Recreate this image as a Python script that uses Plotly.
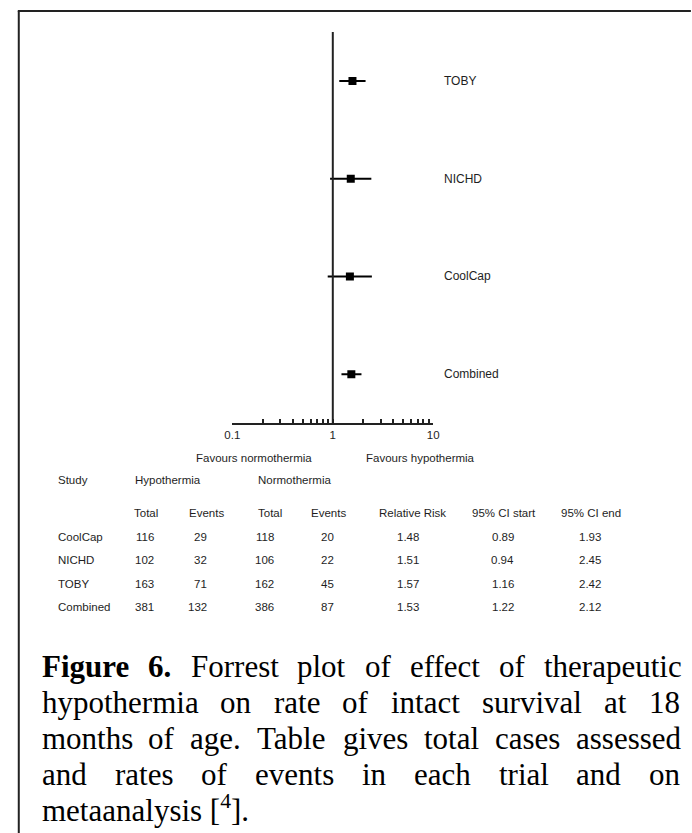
import plotly.graph_objects as go

W, H = 692, 833

# ---------------- data (plot, as drawn) ----------------
plot_studies = ["TOBY", "NICHD", "CoolCap", "Combined"]
plot_rr = [1.57, 1.51, 1.48, 1.53]
plot_ci_lo = [1.16, 0.94, 0.89, 1.22]
plot_ci_hi = [2.12, 2.42, 2.45, 1.93]

# ---------------- data (table) ----------------
table_study = ["CoolCap", "NICHD", "TOBY", "Combined"]
hyp_total = [116, 102, 163, 381]
hyp_events = [29, 32, 71, 132]
norm_total = [118, 106, 162, 386]
norm_events = [20, 22, 45, 87]
rel_risk = ["1.48", "1.51", "1.57", "1.53"]
ci_start = ["0.89", "0.94", "1.16", "1.22"]
ci_end = ["1.93", "2.45", "2.42", "2.12"]

x_major_ticks = [0.1, 1, 10]
x_major_text = ["0.1", "1", "10"]
x_minor_ticks = [0.2, 0.3, 0.4, 0.5, 0.6, 0.7, 0.8, 0.9,
                 2, 3, 4, 5, 6, 7, 8, 9]


def px(x):
    return x / W


def py(y):
    return 1 - y / H


SANS = "Liberation Sans, Arial, Helvetica, sans-serif"
SERIF = "Liberation Serif, Times New Roman, serif"
TXT = "#1e1e1e"

fig = go.Figure()

err_plus = [h - r for h, r in zip(plot_ci_hi, plot_rr)]
err_minus = [r - l for r, l in zip(plot_rr, plot_ci_lo)]

fig.add_trace(go.Scatter(
    x=plot_rr, y=plot_studies, mode="markers",
    marker=dict(symbol="square", size=8, color="black"),
    error_x=dict(type="data", symmetric=False, array=err_plus,
                 arrayminus=err_minus, width=0, thickness=2, color="black"),
    showlegend=False, hoverinfo="skip",
))

# reference line at RR = 1
fig.add_shape(type="line", xref="x", yref="y", x0=1, x1=1, y0=-0.5, y1=3.5,
              line=dict(color="#222", width=2))

annotations = []
# study labels on plot
for s in plot_studies:
    annotations.append(dict(x=px(443), y=s, xref="paper", yref="y", text=s,
                            showarrow=False, xanchor="left", yanchor="middle",
                            font=dict(family=SANS, size=12, color=TXT)))

# favours labels
annotations.append(dict(x=px(251), y=py(458), xref="paper", yref="paper",
                        text="Favours normothermia", showarrow=False,
                        xanchor="center", yanchor="middle",
                        font=dict(family=SANS, size=11.5, color=TXT)))
annotations.append(dict(x=px(421), y=py(458), xref="paper", yref="paper",
                        text="Favours hypothermia", showarrow=False,
                        xanchor="center", yanchor="middle",
                        font=dict(family=SANS, size=11.5, color=TXT)))


def tann(text, x, y, anchor):
    annotations.append(dict(x=px(x), y=py(y), xref="paper", yref="paper",
                            text=str(text), showarrow=False, xanchor=anchor,
                            yanchor="middle",
                            font=dict(family=SANS, size=11.5, color=TXT)))


# table headers
tann("Study", 49, 480, "left")
tann("Hypothermia", 128, 480, "left")
tann("Normothermia", 253, 480, "left")
tann("Total", 141, 513, "center")
tann("Events", 203, 513, "center")
tann("Total", 267, 513, "center")
tann("Events", 327, 513, "center")
tann("Relative Risk", 413, 513, "center")
tann("95% CI start", 506, 513, "center")
tann("95% CI end", 595, 513, "center")

row_y = [537, 560, 584, 607]
for i, yy in enumerate(row_y):
    tann(table_study[i], 49, yy, "left")
    tann(hyp_total[i], 151, yy, "right")
    tann(hyp_events[i], 205, yy, "right")
    tann(norm_total[i], 274, yy, "right")
    tann(norm_events[i], 335, yy, "right")
    tann(rel_risk[i], 422, yy, "right")
    tann(ci_start[i], 518, yy, "right")
    tann(ci_end[i], 607, yy, "right")

# caption, justified by word placement
caption_lines = [
    [("<b>Figure</b>", 33), ("<b>6.</b>", 141), ("Forrest", 185), ("plot", 293),
     ("of", 362), ("effect", 408), ("of", 499), ("therapeutic", 545)],
    [("hypothermia", 33), ("on", 214), ("rate", 269), ("of", 339),
     ("intact", 389), ("survival", 482), ("at", 606), ("18", 652)],
    [("months", 33), ("of", 141), ("age.", 184), ("Table", 252),
     ("gives", 340), ("total", 423), ("cases", 495), ("assessed", 578)],
    [("and", 33), ("rates", 107), ("of", 195), ("events", 250), ("in", 359),
     ("each", 412), ("trial", 499), ("and", 578), ("on", 652)],
    [("metaanalysis [<sup>4</sup>].", 33)],
]
baselines = [678, 714, 750, 786, 822]
for line, base in zip(caption_lines, baselines):
    for word, xw in line:
        annotations.append(dict(x=px(xw), y=py(base + 8), xref="paper",
                                yref="paper", text=word, showarrow=False,
                                xanchor="left", yanchor="bottom",
                                font=dict(family=SERIF, size=31, color="black")))

# frame (left and top edges)
shapes = [
    dict(type="line", xref="paper", yref="paper", x0=px(11), x1=px(11),
         y0=py(11), y1=py(H + 5), line=dict(color="#222", width=2)),
    dict(type="line", xref="paper", yref="paper", x0=px(10), x1=px(W + 5),
         y0=py(11), y1=py(11), line=dict(color="#222", width=2)),
]
for s in shapes:
    fig.add_shape(**s)

fig.update_layout(
    width=W, height=H,
    margin=dict(l=0, r=0, t=0, b=0),
    paper_bgcolor="white", plot_bgcolor="white",
    annotations=annotations,
    xaxis=dict(type="log", range=[-1, 1], domain=[px(229), px(434)],
               tickvals=x_major_ticks, ticktext=x_major_text,
               ticks="inside", ticklen=4, tickwidth=1.5, tickcolor="#222",
               minor=dict(tickvals=x_minor_ticks, ticks="inside", ticklen=4,
                          tickwidth=1.5, tickcolor="#222", showgrid=False),
               showline=True, linecolor="#222", linewidth=2,
               showgrid=False, zeroline=False,
               tickfont=dict(family=SANS, size=11.5, color=TXT)),
    yaxis=dict(type="category", categoryorder="array",
               categoryarray=list(reversed(plot_studies)),
               range=[-0.5, 3.5], domain=[py(423), py(32)],
               showline=False, showticklabels=False, ticks="",
               showgrid=False, zeroline=False),
)

fig.write_html("out.html",
               config={"displayModeBar": False},
               post_script="document.body.style.margin='0';"
                           "document.body.style.overflow='hidden';")
